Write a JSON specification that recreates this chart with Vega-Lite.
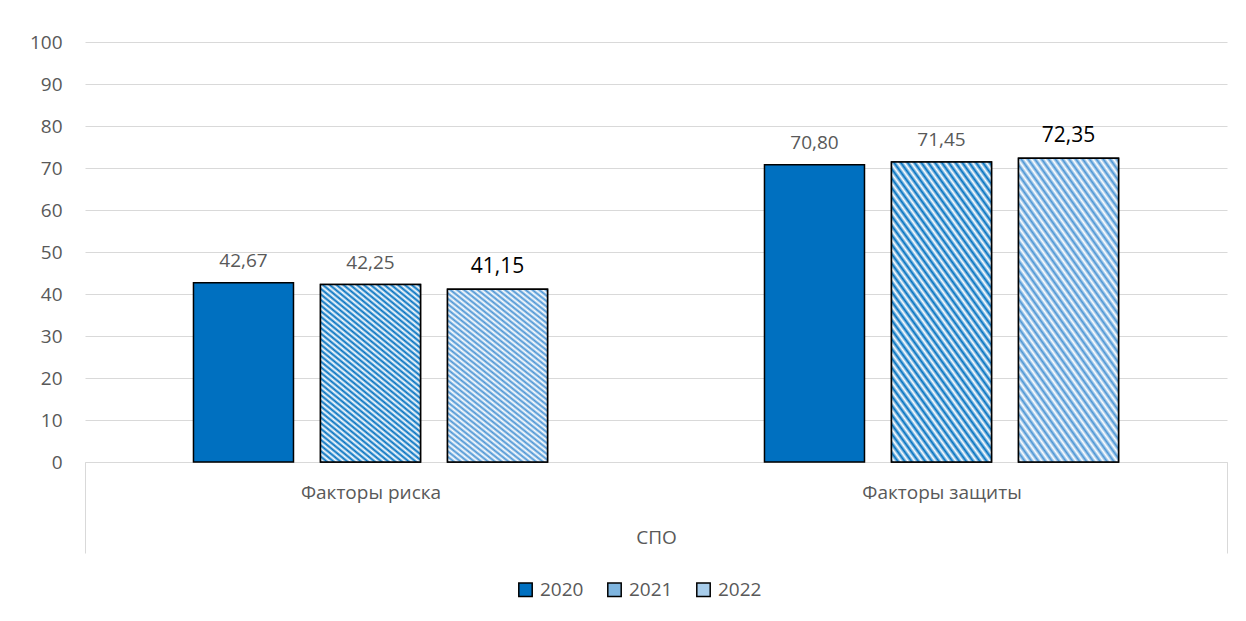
{
  "$schema": "https://vega.github.io/schema/vega-lite/v6.json",
  "width": 1142,
  "height": 420,
  "autosize": {"type": "none"},
  "padding": {"left": 85, "top": 42, "right": 19, "bottom": 159},
  "background": "#ffffff",
  "data": {"values": [
    {"cat": "Факторы риска", "year": "2020", "value": 42.67},
    {"cat": "Факторы риска", "year": "2021", "value": 42.25},
    {"cat": "Факторы риска", "year": "2022", "value": 41.15},
    {"cat": "Факторы защиты", "year": "2020", "value": 70.80},
    {"cat": "Факторы защиты", "year": "2021", "value": 71.45},
    {"cat": "Факторы защиты", "year": "2022", "value": 72.35}
  ]},
  "encoding": {
    "x": {
      "field": "cat", "type": "nominal", "sort": null,
      "scale": {"paddingInner": 0, "paddingOuter": 0},
      "axis": {
        "title": "СПО", "titleY": 75, "titleBaseline": "middle", "titleFontWeight": "normal",
        "titleFontSize": 19, "titleColor": "#595959", "titleFont": "Open Sans",
        "labelAngle": 0, "labelFontSize": 19, "labelColor": "#595959", "labelFont": "Open Sans",
        "labelPadding": -70, "tickSize": 91, "tickBand": "extent", "tickColor": "#d9d9d9", "tickWidth": 1,
        "tickOpacity": {"condition": {"test": "datum.value === 'Факторы риска'", "value": 0}, "value": 1},
        "domainColor": "#d9d9d9", "domainWidth": 1, "grid": false
      }
    },
    "xOffset": {"field": "year", "type": "nominal", "scale": {"domain": ["2020", "2021", "2022"], "paddingInner": 0.2126, "paddingOuter": 0.854}},
    "y": {
      "field": "value", "type": "quantitative",
      "scale": {"domain": [0, 100], "nice": false},
      "axis": {
        "values": [0, 10, 20, 30, 40, 50, 60, 70, 80, 90, 100], "title": null, "domain": false, "ticks": false,
        "labelPadding": 23, "labelFontSize": 19, "labelColor": "#595959", "labelFont": "Open Sans",
        "gridColor": "#d9d9d9", "gridWidth": 1
      }
    }
  },
  "layer": [
    {
      "mark": {"type": "bar", "stroke": "#000000", "strokeWidth": 1.5},
      "encoding": {
        "color": {
          "field": "year", "type": "nominal",
          "scale": {"domain": ["2020", "2021", "2022"], "range": ["#0070c0", "#7fb5df", "#a8cdeb"]},
          "legend": {
            "title": null, "orient": "none", "legendX": 431, "legendY": 538, "direction": "horizontal",
            "symbolType": "square", "symbolSize": 180, "symbolStrokeColor": "#000000", "symbolStrokeWidth": 1.5,
            "labelFontSize": 19, "labelColor": "#595959", "labelFont": "Open Sans", "columnPadding": 20, "labelOffset": 5,
            "encode": {"symbols": {"update": {
              "stroke": {"value": "#000000"},
              "strokeWidth": {"value": 1.5},
              "fill": {"condition": [
                {"test": "datum.value === '2021'", "value": {"gradient": "linear", "x1": 0, "y1": 1, "x2": 0.6, "y2": -0.3, "stops": [
                  {"offset":0,"color":"#0070c0"},{"offset":0.1,"color":"#ffffff"},{"offset":0.2,"color":"#0070c0"},{"offset":0.3,"color":"#ffffff"},{"offset":0.4,"color":"#0070c0"},{"offset":0.5,"color":"#ffffff"},{"offset":0.6,"color":"#0070c0"},{"offset":0.7,"color":"#ffffff"},{"offset":0.8,"color":"#0070c0"},{"offset":0.9,"color":"#ffffff"},{"offset":1,"color":"#0070c0"}]}},
                {"test": "datum.value === '2022'", "value": {"gradient": "linear", "x1": 0, "y1": 1, "x2": 0.6, "y2": -0.3, "stops": [
                  {"offset":0,"color":"#4a94d4"},{"offset":0.1,"color":"#ffffff"},{"offset":0.2,"color":"#4a94d4"},{"offset":0.3,"color":"#ffffff"},{"offset":0.4,"color":"#4a94d4"},{"offset":0.5,"color":"#ffffff"},{"offset":0.6,"color":"#4a94d4"},{"offset":0.7,"color":"#ffffff"},{"offset":0.8,"color":"#4a94d4"},{"offset":0.9,"color":"#ffffff"},{"offset":1,"color":"#4a94d4"}]}}
              ], "value": "#0070c0"}
            }}}
          }
        }
      }
    },
    {
      "transform": [{"filter": "datum.year === '2021'"}],
      "mark": {"type": "bar", "stroke": "#000000", "strokeWidth": 1.5,
        "color": {"gradient": "linear", "x1": 0, "y1": 1, "x2": 0.6, "y2": -0.3, "stops": [
          {"offset":0,"color":"#0070c0"},{"offset":0.01,"color":"#ffffff"},{"offset":0.02,"color":"#0070c0"},{"offset":0.03,"color":"#ffffff"},{"offset":0.04,"color":"#0070c0"},{"offset":0.05,"color":"#ffffff"},{"offset":0.06,"color":"#0070c0"},{"offset":0.07,"color":"#ffffff"},{"offset":0.08,"color":"#0070c0"},{"offset":0.09,"color":"#ffffff"},
          {"offset":0.1,"color":"#0070c0"},{"offset":0.11,"color":"#ffffff"},{"offset":0.12,"color":"#0070c0"},{"offset":0.13,"color":"#ffffff"},{"offset":0.14,"color":"#0070c0"},{"offset":0.15,"color":"#ffffff"},{"offset":0.16,"color":"#0070c0"},{"offset":0.17,"color":"#ffffff"},{"offset":0.18,"color":"#0070c0"},{"offset":0.19,"color":"#ffffff"},
          {"offset":0.2,"color":"#0070c0"},{"offset":0.21,"color":"#ffffff"},{"offset":0.22,"color":"#0070c0"},{"offset":0.23,"color":"#ffffff"},{"offset":0.24,"color":"#0070c0"},{"offset":0.25,"color":"#ffffff"},{"offset":0.26,"color":"#0070c0"},{"offset":0.27,"color":"#ffffff"},{"offset":0.28,"color":"#0070c0"},{"offset":0.29,"color":"#ffffff"},
          {"offset":0.3,"color":"#0070c0"},{"offset":0.31,"color":"#ffffff"},{"offset":0.32,"color":"#0070c0"},{"offset":0.33,"color":"#ffffff"},{"offset":0.34,"color":"#0070c0"},{"offset":0.35,"color":"#ffffff"},{"offset":0.36,"color":"#0070c0"},{"offset":0.37,"color":"#ffffff"},{"offset":0.38,"color":"#0070c0"},{"offset":0.39,"color":"#ffffff"},
          {"offset":0.4,"color":"#0070c0"},{"offset":0.41,"color":"#ffffff"},{"offset":0.42,"color":"#0070c0"},{"offset":0.43,"color":"#ffffff"},{"offset":0.44,"color":"#0070c0"},{"offset":0.45,"color":"#ffffff"},{"offset":0.46,"color":"#0070c0"},{"offset":0.47,"color":"#ffffff"},{"offset":0.48,"color":"#0070c0"},{"offset":0.49,"color":"#ffffff"},
          {"offset":0.5,"color":"#0070c0"},{"offset":0.51,"color":"#ffffff"},{"offset":0.52,"color":"#0070c0"},{"offset":0.53,"color":"#ffffff"},{"offset":0.54,"color":"#0070c0"},{"offset":0.55,"color":"#ffffff"},{"offset":0.56,"color":"#0070c0"},{"offset":0.57,"color":"#ffffff"},{"offset":0.58,"color":"#0070c0"},{"offset":0.59,"color":"#ffffff"},
          {"offset":0.6,"color":"#0070c0"},{"offset":0.61,"color":"#ffffff"},{"offset":0.62,"color":"#0070c0"},{"offset":0.63,"color":"#ffffff"},{"offset":0.64,"color":"#0070c0"},{"offset":0.65,"color":"#ffffff"},{"offset":0.66,"color":"#0070c0"},{"offset":0.67,"color":"#ffffff"},{"offset":0.68,"color":"#0070c0"},{"offset":0.69,"color":"#ffffff"},
          {"offset":0.7,"color":"#0070c0"},{"offset":0.71,"color":"#ffffff"},{"offset":0.72,"color":"#0070c0"},{"offset":0.73,"color":"#ffffff"},{"offset":0.74,"color":"#0070c0"},{"offset":0.75,"color":"#ffffff"},{"offset":0.76,"color":"#0070c0"},{"offset":0.77,"color":"#ffffff"},{"offset":0.78,"color":"#0070c0"},{"offset":0.79,"color":"#ffffff"},
          {"offset":0.8,"color":"#0070c0"},{"offset":0.81,"color":"#ffffff"},{"offset":0.82,"color":"#0070c0"},{"offset":0.83,"color":"#ffffff"},{"offset":0.84,"color":"#0070c0"},{"offset":0.85,"color":"#ffffff"},{"offset":0.86,"color":"#0070c0"},{"offset":0.87,"color":"#ffffff"},{"offset":0.88,"color":"#0070c0"},{"offset":0.89,"color":"#ffffff"},
          {"offset":0.9,"color":"#0070c0"},{"offset":0.91,"color":"#ffffff"},{"offset":0.92,"color":"#0070c0"},{"offset":0.93,"color":"#ffffff"},{"offset":0.94,"color":"#0070c0"},{"offset":0.95,"color":"#ffffff"},{"offset":0.96,"color":"#0070c0"},{"offset":0.97,"color":"#ffffff"},{"offset":0.98,"color":"#0070c0"},{"offset":0.99,"color":"#ffffff"},
          {"offset":1,"color":"#0070c0"}
        ]}
      },
      "encoding": {}
    },
    {
      "transform": [{"filter": "datum.year === '2022'"}],
      "mark": {"type": "bar", "stroke": "#000000", "strokeWidth": 1.5,
        "color": {"gradient": "linear", "x1": 0, "y1": 1, "x2": 0.6, "y2": -0.3, "stops": [
          {"offset":0,"color":"#4a94d4"},{"offset":0.01,"color":"#ffffff"},{"offset":0.02,"color":"#4a94d4"},{"offset":0.03,"color":"#ffffff"},{"offset":0.04,"color":"#4a94d4"},{"offset":0.05,"color":"#ffffff"},{"offset":0.06,"color":"#4a94d4"},{"offset":0.07,"color":"#ffffff"},{"offset":0.08,"color":"#4a94d4"},{"offset":0.09,"color":"#ffffff"},
          {"offset":0.1,"color":"#4a94d4"},{"offset":0.11,"color":"#ffffff"},{"offset":0.12,"color":"#4a94d4"},{"offset":0.13,"color":"#ffffff"},{"offset":0.14,"color":"#4a94d4"},{"offset":0.15,"color":"#ffffff"},{"offset":0.16,"color":"#4a94d4"},{"offset":0.17,"color":"#ffffff"},{"offset":0.18,"color":"#4a94d4"},{"offset":0.19,"color":"#ffffff"},
          {"offset":0.2,"color":"#4a94d4"},{"offset":0.21,"color":"#ffffff"},{"offset":0.22,"color":"#4a94d4"},{"offset":0.23,"color":"#ffffff"},{"offset":0.24,"color":"#4a94d4"},{"offset":0.25,"color":"#ffffff"},{"offset":0.26,"color":"#4a94d4"},{"offset":0.27,"color":"#ffffff"},{"offset":0.28,"color":"#4a94d4"},{"offset":0.29,"color":"#ffffff"},
          {"offset":0.3,"color":"#4a94d4"},{"offset":0.31,"color":"#ffffff"},{"offset":0.32,"color":"#4a94d4"},{"offset":0.33,"color":"#ffffff"},{"offset":0.34,"color":"#4a94d4"},{"offset":0.35,"color":"#ffffff"},{"offset":0.36,"color":"#4a94d4"},{"offset":0.37,"color":"#ffffff"},{"offset":0.38,"color":"#4a94d4"},{"offset":0.39,"color":"#ffffff"},
          {"offset":0.4,"color":"#4a94d4"},{"offset":0.41,"color":"#ffffff"},{"offset":0.42,"color":"#4a94d4"},{"offset":0.43,"color":"#ffffff"},{"offset":0.44,"color":"#4a94d4"},{"offset":0.45,"color":"#ffffff"},{"offset":0.46,"color":"#4a94d4"},{"offset":0.47,"color":"#ffffff"},{"offset":0.48,"color":"#4a94d4"},{"offset":0.49,"color":"#ffffff"},
          {"offset":0.5,"color":"#4a94d4"},{"offset":0.51,"color":"#ffffff"},{"offset":0.52,"color":"#4a94d4"},{"offset":0.53,"color":"#ffffff"},{"offset":0.54,"color":"#4a94d4"},{"offset":0.55,"color":"#ffffff"},{"offset":0.56,"color":"#4a94d4"},{"offset":0.57,"color":"#ffffff"},{"offset":0.58,"color":"#4a94d4"},{"offset":0.59,"color":"#ffffff"},
          {"offset":0.6,"color":"#4a94d4"},{"offset":0.61,"color":"#ffffff"},{"offset":0.62,"color":"#4a94d4"},{"offset":0.63,"color":"#ffffff"},{"offset":0.64,"color":"#4a94d4"},{"offset":0.65,"color":"#ffffff"},{"offset":0.66,"color":"#4a94d4"},{"offset":0.67,"color":"#ffffff"},{"offset":0.68,"color":"#4a94d4"},{"offset":0.69,"color":"#ffffff"},
          {"offset":0.7,"color":"#4a94d4"},{"offset":0.71,"color":"#ffffff"},{"offset":0.72,"color":"#4a94d4"},{"offset":0.73,"color":"#ffffff"},{"offset":0.74,"color":"#4a94d4"},{"offset":0.75,"color":"#ffffff"},{"offset":0.76,"color":"#4a94d4"},{"offset":0.77,"color":"#ffffff"},{"offset":0.78,"color":"#4a94d4"},{"offset":0.79,"color":"#ffffff"},
          {"offset":0.8,"color":"#4a94d4"},{"offset":0.81,"color":"#ffffff"},{"offset":0.82,"color":"#4a94d4"},{"offset":0.83,"color":"#ffffff"},{"offset":0.84,"color":"#4a94d4"},{"offset":0.85,"color":"#ffffff"},{"offset":0.86,"color":"#4a94d4"},{"offset":0.87,"color":"#ffffff"},{"offset":0.88,"color":"#4a94d4"},{"offset":0.89,"color":"#ffffff"},
          {"offset":0.9,"color":"#4a94d4"},{"offset":0.91,"color":"#ffffff"},{"offset":0.92,"color":"#4a94d4"},{"offset":0.93,"color":"#ffffff"},{"offset":0.94,"color":"#4a94d4"},{"offset":0.95,"color":"#ffffff"},{"offset":0.96,"color":"#4a94d4"},{"offset":0.97,"color":"#ffffff"},{"offset":0.98,"color":"#4a94d4"},{"offset":0.99,"color":"#ffffff"},
          {"offset":1,"color":"#4a94d4"}
        ]}
      },
      "encoding": {}
    },
    {
      "mark": {"type": "text", "baseline": "bottom", "dy": -12, "font": "Open Sans"},
      "encoding": {
        "text": {"field": "value", "type": "quantitative", "format": ".2f"},
        "color": {"condition": {"test": "datum.year === '2022'", "value": "#000000"}, "value": "#595959"},
        "size": {"condition": {"test": "datum.year === '2022'", "value": 21}, "value": 19}
      }
    }
  ],
  "config": {
    "view": {"stroke": null},
    "font": "Open Sans",
    "locale": {"number": {"decimal": ",", "thousands": " ", "grouping": [3], "currency": ["", ""]}}
  }
}
